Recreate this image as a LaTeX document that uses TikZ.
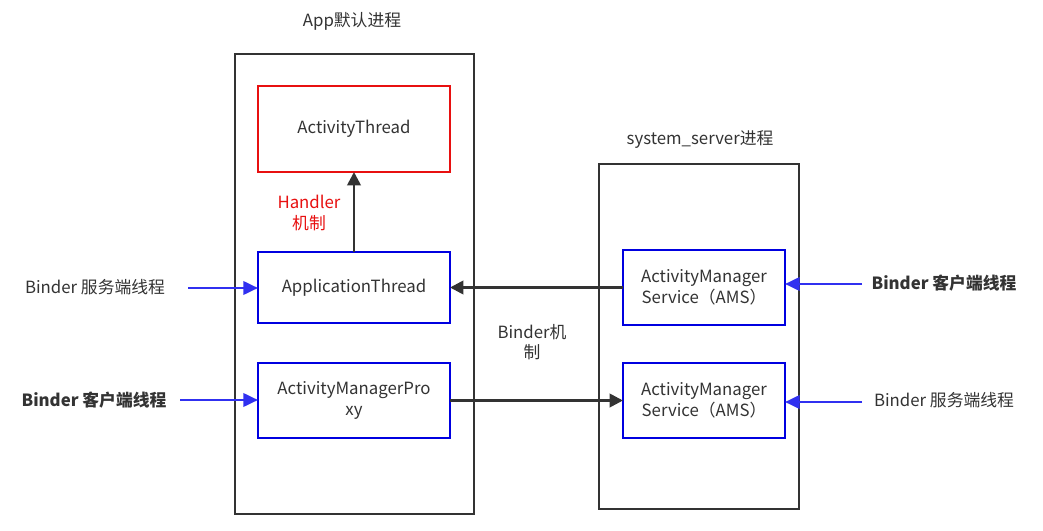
\documentclass[tikz,border=0pt]{standalone}
\usepackage{fontspec}
\setmainfont{Noto Sans CJK SC}
\usetikzlibrary{arrows.meta}
\definecolor{dk}{HTML}{333333}
\definecolor{bx}{HTML}{0000E0}
\definecolor{ba}{HTML}{3030F0}
\definecolor{rd}{HTML}{E81010}
\begin{document}
\begin{tikzpicture}[x=0.75pt,y=-0.75pt,
  font=\fontsize{12.6}{15.5}\selectfont,
  proc/.style={draw=dk,line width=2pt,inner sep=0pt,outer sep=0pt},
  bluebox/.style={draw=bx,line width=2pt,inner sep=0pt,outer sep=0pt,minimum width=192*0.75pt,align=center,text=dk},
  redbox/.style={draw=rd,line width=2pt,inner sep=0pt,outer sep=0pt,minimum width=192*0.75pt,align=center,text=dk},
  lbl/.style={text=dk,inner sep=0pt,align=center},
  darr/.style={draw=dk,line width=2pt,-{Triangle[length=10pt,width=10pt]}},
  barr/.style={draw=ba,line width=2pt,-{Triangle[length=11pt,width=10pt]}}]
\useasboundingbox (0,0) rectangle (1043,531);
\fill[white] (0,0) rectangle (1043,531);
% process boxes
\node[proc,minimum width=239*0.75pt,minimum height=460*0.75pt] (app) at (354.5,284) {};
\node[lbl] (applbl) at (352,21) {App默认进程};
\node[proc,minimum width=200*0.75pt,minimum height=345*0.75pt] (sys) at (699,336.5) {};
\node[lbl] (syslbl) at (700,140) {system\_server进程};
% inner boxes
\node[redbox,minimum height=86*0.75pt] (at) at (354,129) {ActivityThread};
\node[bluebox,minimum height=71*0.75pt] (apt) at (354,287.5) {ApplicationThread};
\node[bluebox,minimum height=75*0.75pt] (amp) at (354,400.5) {ActivityManagerPro\\xy};
\node[bluebox,minimum width=162*0.75pt,minimum height=75*0.75pt] (ams1) at (704,287.5) {ActivityManager\\Service（AMS）};
\node[bluebox,minimum width=162*0.75pt,minimum height=75*0.75pt] (ams2) at (704,400.5) {ActivityManager\\Service（AMS）};
% labels
\node[lbl,text=rd] (hnd) at (309,213) {Handler\\机制};
\node[lbl] (bnd) at (532,342) {Binder机\\制};
\node[lbl,anchor=center] (l1) at (95,287) {Binder 服务端线程};
\node[lbl,font=\fontsize{12.6}{15.5}\selectfont\bfseries] (l2) at (94,400) {Binder 客户端线程};
\node[lbl,font=\fontsize{12.6}{15.5}\selectfont\bfseries] (r1) at (944,283) {Binder 客户端线程};
\node[lbl] (r2) at (944,400) {Binder 服务端线程};
\coordinate (c1) at (188,288);
\coordinate (c2) at (180,400);
\coordinate (c3) at (862,284);
\coordinate (c4) at (862,402);
% arrows
\draw[darr] (apt.north) -- (at.south);
\draw[darr] (ams1.west) -- (apt.east);
\draw[darr] (amp.east) -- (ams2.west);
\draw[barr] (c1) -- (apt.west |- c1);
\draw[barr] (c2) -- (amp.west |- c2);
\draw[barr] (c3) -- (ams1.east |- c3);
\draw[barr] (c4) -- (ams2.east |- c4);
\end{tikzpicture}
\end{document}
